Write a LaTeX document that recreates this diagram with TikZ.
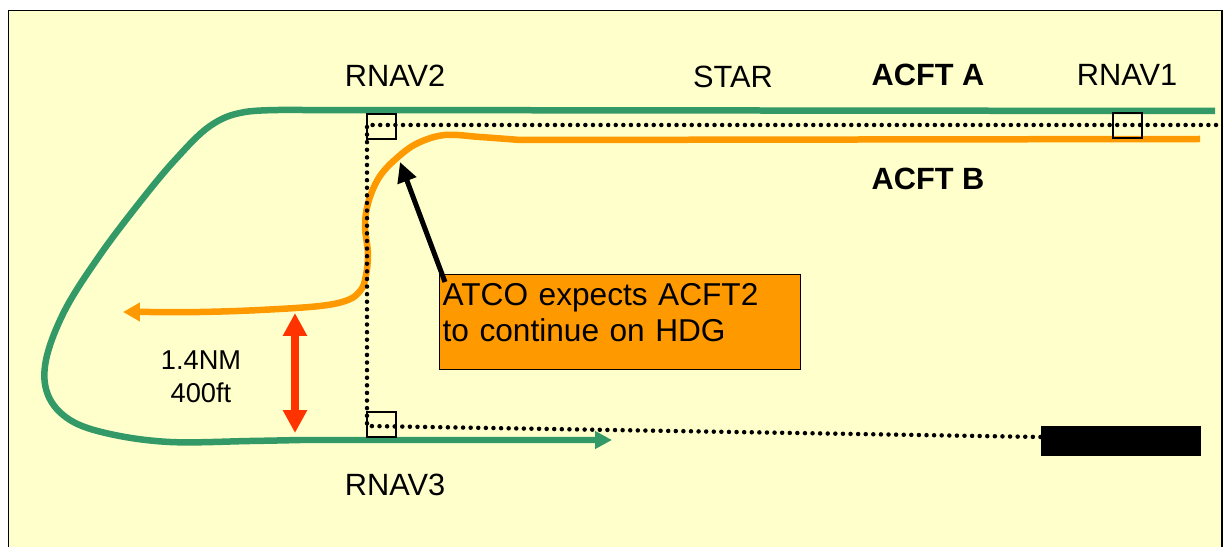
\documentclass[tikz,border=0pt]{standalone}
\usepackage{fontspec}
\setmainfont{Liberation Sans}
\usetikzlibrary{arrows.meta}
\definecolor{paper}{HTML}{FFFFCC}
\definecolor{acftgreen}{HTML}{339966}
\definecolor{acftorange}{HTML}{FF9900}
\definecolor{sepred}{HTML}{FF3300}

\begin{document}
\begin{tikzpicture}[
    x=0.02cm, y=-0.02cm,
    lbl/.style={anchor=base, inner sep=0pt, font=\fontsize{17.5}{21}\selectfont},
    bold/.style={lbl, font=\fontsize{17.5}{21}\selectfont\bfseries},
    sepl/.style={align=center, inner sep=0pt, font=\fontsize{15.5}{18.7}\selectfont},
    wpt/.style={draw, line width=0.026cm, minimum width=0.58cm,
                minimum height=0.5cm, inner sep=0pt},
    track/.style={line width=0.13cm, line join=round},
    dotline/.style={line width=0.09cm, line cap=round,
                    dash pattern=on 0cm off 0.152cm},
    note/.style={draw, fill=acftorange, line width=0.026cm, anchor=north west,
                 align=left, text width=7.1cm, inner xsep=0.06cm, inner ysep=0.18cm,
                 text depth=1.1cm, font=\fontsize{18}{20.4}\selectfont},
    arr/.style={-{Triangle[length=0.4cm, width=0.38cm]}, line width=0.1cm},
    gap/.style={{Triangle[length=0.46cm, width=0.46cm]}-{Triangle[length=0.46cm, width=0.46cm]},
                line width=0.15cm, sepred}
]
  \useasboundingbox (0,0) rectangle (1225,547);
  \fill[paper] (8.5,10.5) rectangle (1222,547);
  \draw[line width=0.026cm] (8.5,547) -- (8.5,10.5) -- (1222,10.5) -- (1222,547);

  \coordinate (aIn) at (1215,111);
  \coordinate (aOut) at (612,440);
  \coordinate (bIn) at (1200,139);
  \coordinate (bOut) at (123,312);
  \coordinate (bTurn) at (400,162);
  \coordinate (gapTop) at (295,313);
  \coordinate (gapBot) at (295,433);
  \coordinate (starEnd) at (1216,125);
  \coordinate (starCorner) at (367,125);
  \coordinate (rnavCorner) at (367,426);

  \draw[track, acftgreen, -{Triangle[length=0.34cm, width=0.34cm]}] (aIn)
    -- plot[smooth, tension=0.6] coordinates {(300,110) (245,112) (210,126)
       (175,160) (140,202) (100,255) (65,310) (46,360) (48,395) (70,420)
       (110,434) (170,442) (250,441) (300,440)} -- (aOut);
  \draw[track, acftorange, -{Triangle[length=0.34cm, width=0.36cm]}] (bIn)
    -- plot[smooth, tension=0.6] coordinates {(520,140) (480,137) (445,135)
       (418,143) (398,157) (380,176) (369,200) (365,225) (368,255) (365,280)
       (360,291) (348,300) (320,306) (260,310) (200,312) (150,312)} -- (bOut);

  \node[fill=black, minimum width=3.2cm, minimum height=0.6cm, inner sep=0pt]
    (block) at (1121,441) {};
  \draw[dotline] (starEnd) -- (starCorner) -- (rnavCorner)
    -- ([yshift=0.08cm]block.west);

  \node[wpt] (wp2) at (381.5,126.5) {};
  \node[wpt] (wp1) at (1127.5,125.5) {};
  \node[wpt] (wp3) at (381.5,424.5) {};

  \node[note] (note) at (439,274) {ATCO expects ACFT2\\to continue on HDG};
  \draw[arr] ([shift={(6,8)}]note.north west) -- (bTurn);
  \draw[gap] (gapTop) -- (gapBot);

  \node[lbl] (rnav2) at (395,87) {RNAV2};
  \node[lbl] (star) at (733,88) {STAR};
  \node[bold] (acftA) at (928,86) {ACFT A};
  \node[lbl] (rnav1) at (1127,86) {RNAV1};
  \node[bold] (acftB) at (928,190) {ACFT B};
  \node[lbl] (rnav3) at (395,496) {RNAV3};
  \node[sepl] (sep) at (201,377) {1.4NM\\400ft};
\end{tikzpicture}
\end{document}
